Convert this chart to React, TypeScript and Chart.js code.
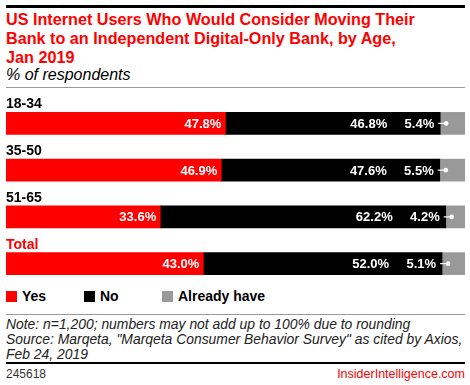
import React, { useEffect, useRef } from "react";
import { Chart, registerables } from "chart.js";

Chart.register(...registerables);

const categories = ["18-34", "35-50", "51-65", "Total"];
const yesValues = [47.8, 46.9, 33.6, 43.0];
const noValues = [46.8, 47.6, 62.2, 52.0];
const alreadyValues = [5.4, 5.5, 4.2, 5.1];
const seriesNames = ["Yes", "No", "Already have"];
const seriesColors = ["#ff0000", "#000000", "#999999"];

const FONT = '"Liberation Sans", Arial, sans-serif';

const labelPlugin = {
  id: "barLabels",
  afterDatasetsDraw(chart: any) {
    const ctx = chart.ctx;
    const m0 = chart.getDatasetMeta(0);
    const m1 = chart.getDatasetMeta(1);
    const m2 = chart.getDatasetMeta(2);
    ctx.save();
    categories.forEach((cat, i) => {
      const y = m0.data[i];
      const n = m1.data[i];
      const a = m2.data[i];
      const top = y.y - y.height / 2;
      ctx.font = `bold 14px ${FONT}`;
      ctx.textAlign = "left";
      ctx.textBaseline = "alphabetic";
      ctx.fillStyle = cat === "Total" ? "#ff0000" : "#000000";
      ctx.fillText(cat, chart.chartArea.left, top - 4);
      ctx.font = `bold 13px ${FONT}`;
      ctx.fillStyle = "#ffffff";
      ctx.textAlign = "right";
      ctx.textBaseline = "middle";
      const cy = y.y + 1;
      ctx.fillText(yesValues[i].toFixed(1) + "%", y.x - 4, cy);
      ctx.fillText(noValues[i].toFixed(1) + "%", n.x - 53, cy);
      ctx.fillText(alreadyValues[i].toFixed(1) + "%", a.base - 6, cy);
      ctx.strokeStyle = "#ffffff";
      ctx.lineWidth = 1.2;
      ctx.beginPath();
      ctx.moveTo(a.base - 2, y.y);
      ctx.lineTo(a.base + 6, y.y);
      ctx.stroke();
      ctx.beginPath();
      ctx.arc(a.base + 6, y.y, 2.3, 0, Math.PI * 2);
      ctx.fill();
    });
    ctx.restore();
  },
};

export default function App() {
  const ref = useRef<HTMLCanvasElement>(null);
  useEffect(() => {
    if (!ref.current) return;
    const chart = new Chart(ref.current, {
      type: "bar",
      data: {
        labels: categories,
        datasets: [yesValues, noValues, alreadyValues].map((d, k) => ({
          label: seriesNames[k],
          data: d,
          backgroundColor: seriesColors[k],
          borderWidth: 0,
          barThickness: 22,
        })),
      },
      options: {
        indexAxis: "y",
        animation: false,
        responsive: false,
        maintainAspectRatio: false,
        layout: { padding: { left: 6, right: 5, top: 8, bottom: 1 } },
        scales: {
          x: { stacked: true, min: 0, max: 100, display: false },
          y: { stacked: true, display: false },
        },
        plugins: { legend: { display: false }, tooltip: { enabled: false } },
      },
      plugins: [labelPlugin],
    });
    return () => chart.destroy();
  }, []);

  const abs = (s: React.CSSProperties): React.CSSProperties => ({ position: "absolute", ...s });

  return (
    <div style={{ position: "fixed", left: 0, top: 0, width: 470, height: 385, background: "#fff", fontFamily: FONT, overflow: "hidden" }}>
      <div style={abs({ left: 6, top: 5, width: 459, height: 3, background: "#000" })} />
      <div style={abs({ left: 6, top: 10, width: 464, fontSize: 16.2, lineHeight: "19px", fontWeight: "bold", color: "#ff0000" })}>
        US Internet Users Who Would Consider Moving Their<br />
        Bank to an Independent Digital-Only Bank, by Age,<br />
        Jan 2019
      </div>
      <div style={abs({ left: 6, top: 65, fontSize: 16, fontStyle: "italic", color: "#000", lineHeight: "19px" })}>% of respondents</div>
      <div style={abs({ left: 6, top: 87, width: 459, height: 1, background: "#999" })} />
      <canvas ref={ref} width={470} height={196} style={abs({ left: 0, top: 92, width: 470, height: 196 })} />
      <div style={abs({ left: 6, top: 289, display: "flex", alignItems: "center", fontSize: 14, fontWeight: "bold", lineHeight: "14px" })}>
        {seriesNames.map((n, k) => (
          <div key={n} style={{ display: "flex", alignItems: "center", width: k === 2 ? 120 : 78 }}>
            <span style={{ display: "inline-block", width: 11, height: 11, background: seriesColors[k], marginRight: 5 }} />
            <span>{n}</span>
          </div>
        ))}
      </div>
      <div style={abs({ left: 6, top: 314, width: 459, height: 1, background: "#999" })} />
      <div style={abs({ left: 6, top: 317, width: 464, fontSize: 13.9, fontStyle: "italic", lineHeight: "15px", color: "#222" })}>
        Note: n=1,200; numbers may not add up to 100% due to rounding<br />
        Source: Marqeta, "Marqeta Consumer Behavior Survey" as cited by Axios,<br />
        Feb 24, 2019
      </div>
      <div style={abs({ left: 6, top: 362, width: 459, height: 2, background: "#000" })} />
      <div style={abs({ left: 6, top: 367, fontSize: 12, lineHeight: "14px", color: "#333" })}>245618</div>
      <div style={abs({ right: 5, top: 367, fontSize: 12.5, lineHeight: "14px", color: "#ff0000" })}>InsiderIntelligence.com</div>
    </div>
  );
}
